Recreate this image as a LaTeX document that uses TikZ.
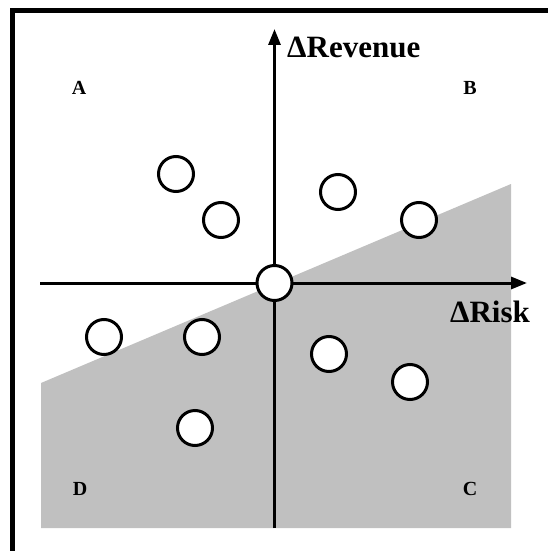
\documentclass[tikz,border=0pt]{standalone}
\usepackage{fontspec}
\setmainfont{Liberation Serif}
\usetikzlibrary{arrows.meta}
\definecolor{greyfill}{RGB}{192,192,192}
\begin{document}
\begin{tikzpicture}[x=1pt,y=-1pt,
  dot/.style={circle,draw=black,line width=3pt,fill=white,minimum size=35pt,inner sep=0pt},
  axis/.style={line width=3pt,-{Triangle[length=16pt,width=12pt]}},
  quad/.style={font=\fontsize{20}{20}\selectfont\bfseries},
  axlabel/.style={font=\fontsize{31}{31}\selectfont\bfseries,inner sep=0pt}]
\useasboundingbox (0,0) rectangle (547,551);
\fill[white] (0,0) rectangle (547,551);
% frame
\draw[line width=5pt] (12.5,555) -- (12.5,10.5) -- (551,10.5);
% shaded region
\fill[greyfill] (41,383) -- (511,184) -- (511,528) -- (41,528) -- cycle;
% axes
\coordinate (xs) at (40,283);
\coordinate (xe) at (527,283);
\coordinate (ys) at (274.5,528);
\coordinate (ye) at (274.5,29);
\draw[axis] (xs) -- (xe);
\draw[axis] (ys) -- (ye);
% labels
\node[axlabel,anchor=base west] (rev) at (287,57) {ΔRevenue};
\node[axlabel,anchor=base east] (risk) at (530,322) {ΔRisk};
\node[quad] (A) at (79,88) {A};
\node[quad] (B) at (470,88) {B};
\node[quad] (D) at (80,489) {D};
\node[quad] (C) at (470,489) {C};
% dots
\node[dot] (o) at (274.5,283) {};
\node[dot] (p1) at (176,174) {};
\node[dot] (p2) at (221,220) {};
\node[dot] (p3) at (338,192) {};
\node[dot] (p4) at (419,220) {};
\node[dot] (p5) at (104,337) {};
\node[dot] (p6) at (202,337) {};
\node[dot] (p7) at (329,354) {};
\node[dot] (p8) at (410,382) {};
\node[dot] (p9) at (195,428) {};
\end{tikzpicture}
\end{document}
